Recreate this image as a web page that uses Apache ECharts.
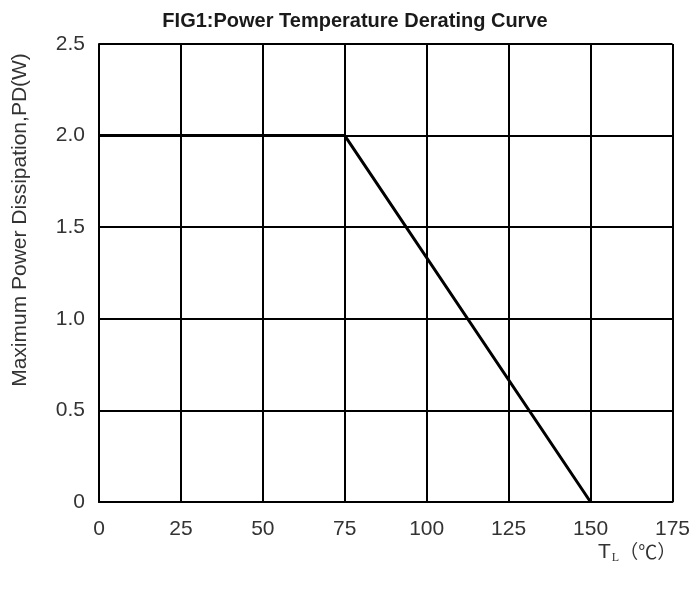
<!DOCTYPE html>
<html>
<head>
<meta charset="utf-8">
<script src="https://cdn.jsdelivr.net/npm/echarts@6/dist/echarts.min.js"></script>
<style>
  html, body { margin: 0; padding: 0; background: #fff; }
  #chart { width: 693px; height: 591px; }
</style>
</head>
<body>
<div id="chart"></div>
<script>
// derating curve: flat 2W up to 75℃, then linear down to 0 at 150℃
const tempC = [0, 75, 150]
const powerW = [2.0, 2.0, 0]
const xTicks = [0, 25, 50, 75, 100, 125, 150, 175]
const yTicks = [0, 0.5, 1.0, 1.5, 2.0, 2.5]

const chart = echarts.init(document.getElementById('chart'))

const labelStyle = {
  color: '#333',
  fontFamily: 'Liberation Sans, Arial, sans-serif',
  fontSize: 21
}

chart.setOption({
  animation: false,
  title: {
    text: 'FIG1:Power Temperature Derating Curve',
    left: 350,
    textAlign: 'center',
    top: 6,
    textStyle: {
      fontFamily: 'Liberation Sans, Arial, sans-serif',
      fontSize: 20,
      fontWeight: 'bold',
      color: '#1a1a1a'
    }
  },
  grid: { left: 99, right: 18, top: 44, bottom: 89 },
  xAxis: {
    type: 'value',
    min: xTicks[0],
    max: xTicks[xTicks.length - 1],
    interval: 25,
    axisLine: { lineStyle: { color: '#000', width: 2 } },
    axisTick: { show: false },
    axisLabel: Object.assign({ margin: 17 }, labelStyle),
    splitLine: { lineStyle: { color: '#000', width: 2 } }
  },
  yAxis: {
    type: 'value',
    min: yTicks[0],
    max: yTicks[yTicks.length - 1],
    interval: 0.5,
    axisLine: { show: true, lineStyle: { color: '#000', width: 2 } },
    axisTick: { show: false },
    axisLabel: Object.assign({
      margin: 14,
      formatter: v => (v === 0 ? '0' : v.toFixed(1))
    }, labelStyle),
    splitLine: { lineStyle: { color: '#000', width: 2 } }
  },
  graphic: [
    {
      type: 'text',
      x: 20,
      y: 220,
      rotation: Math.PI / 2,
      style: {
        text: 'Maximum Power Dissipation,PD(W)',
        fill: '#333',
        font: '21px "Liberation Sans", Arial, sans-serif',
        align: 'center',
        verticalAlign: 'middle'
      }
    },
    {
      type: 'text',
      x: 598,
      y: 552,
      style: {
        text: '{t|T}{s|L}{u|（℃）}',
        verticalAlign: 'middle',
        rich: {
          t: { fill: '#333', fontSize: 21, fontFamily: 'Liberation Sans, Arial, sans-serif' },
          s: { fill: '#333', fontSize: 12, fontFamily: 'Liberation Serif, serif', padding: [12, 0, 0, 1] },
          u: { fill: '#333', fontSize: 19, fontFamily: 'Noto Sans CJK SC, sans-serif' }
        }
      }
    }
  ],
  series: [{
    type: 'line',
    data: tempC.map((t, i) => [t, powerW[i]]),
    symbol: 'none',
    lineStyle: { color: '#000', width: 3 }
  }]
})
</script>
</body>
</html>
